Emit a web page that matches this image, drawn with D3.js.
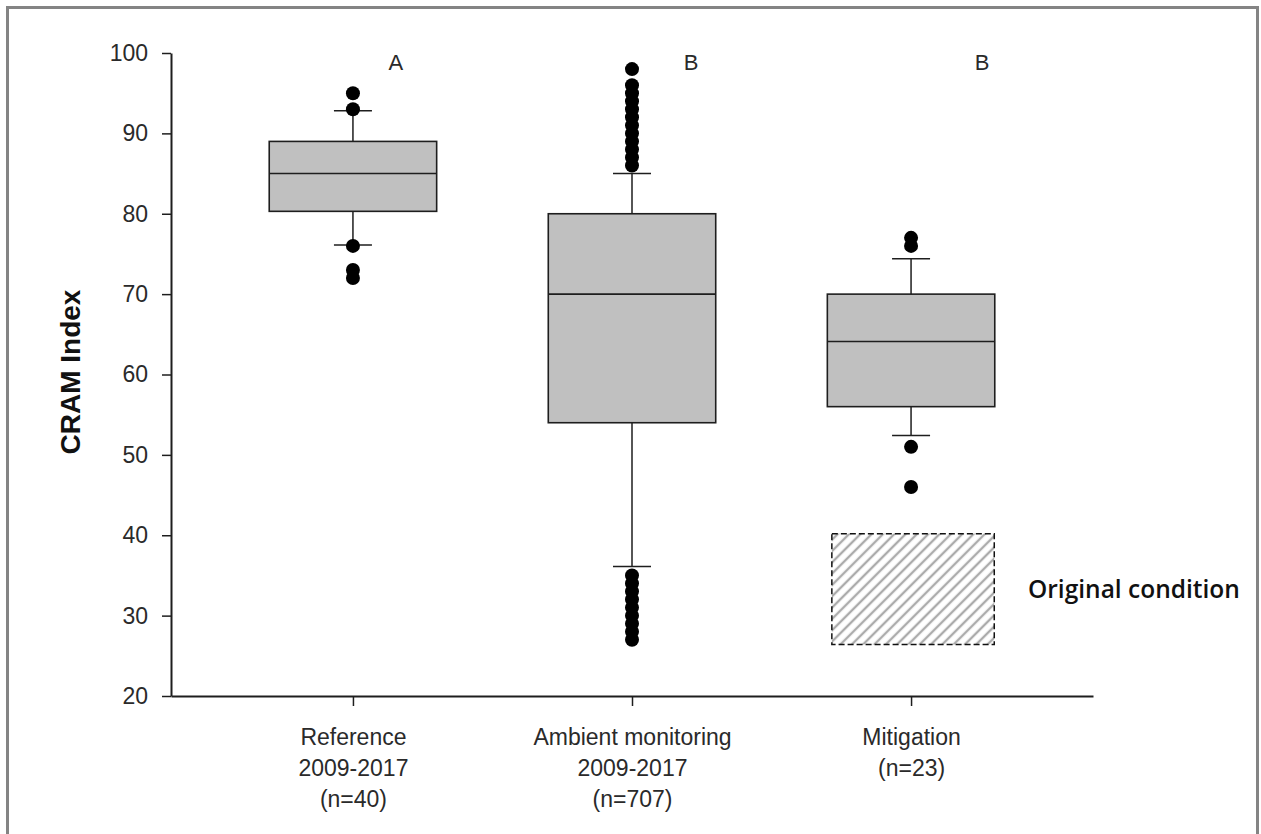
<!DOCTYPE html>
<html>
<head>
<meta charset="utf-8">
<script src="https://cdn.jsdelivr.net/npm/d3@7"></script>
<style>
  body { margin: 0; background: #fff; }
  svg { display: block; font-family: "Liberation Sans", Arial, sans-serif; }
</style>
</head>
<body>
<svg width="1261" height="834"></svg>
<script>
// data
const categoryLabels = [
  ["Reference", "2009-2017", "(n=40)"],
  ["Ambient monitoring", "2009-2017", "(n=707)"],
  ["Mitigation", "(n=23)"]
]
const groupLetters = ["A", "B", "B"]
const q1 = [80.3, 54, 56]
const median = [85, 70, 64.1]
const q3 = [89, 80, 70]
const whiskerLow = [76.1, 36.1, 52.4]
const whiskerHigh = [92.8, 85, 74.4]
const outliers = [
  [95, 93, 76, 73, 72],
  [98, 96, 95, 94, 93, 92, 91, 90, 89, 88, 87, 86, 35, 34, 33, 32, 31, 30, 29, 28, 27],
  [77, 76, 51, 46]
]
const originalCondition = [26.4, 40.2]   // hatched range under Mitigation
const yTicks = [20, 30, 40, 50, 60, 70, 80, 90, 100]

const svg = d3.select("svg")
const width = +svg.attr("width")
const height = +svg.attr("height")

// grey frame round the figure (bottom edge runs off the picture)
svg.append("rect")
  .attr("x", 7.5).attr("y", 7.5)
  .attr("width", 1250).attr("height", 840)
  .attr("fill", "none")
  .attr("stroke", "#848484")
  .attr("stroke-width", 3)

const x = d3.scalePoint()
  .domain(d3.range(categoryLabels.length))
  .range([171, 1093])
  .padding(0.652)

const y = d3.scaleLinear()
  .domain([20, 100])
  .range([696, 53])

const boxW = x.step() * 0.6
const capW = 38

// hatch pattern
const defs = svg.append("defs")
const pat = defs.append("pattern")
  .attr("id", "hatch")
  .attr("patternUnits", "userSpaceOnUse")
  .attr("width", 8).attr("height", 8)
  .attr("patternTransform", "rotate(45)")
pat.append("line")
  .attr("x1", 2).attr("y1", 0).attr("x2", 2).attr("y2", 8)
  .attr("stroke", "#ababab")
  .attr("stroke-width", 2.4)

// axes
const yAxisG = svg.append("g")
  .attr("transform", "translate(171,0)")
  .call(d3.axisLeft(y).tickValues(yTicks).tickSize(9).tickSizeOuter(0).tickPadding(14))
const xAxisG = svg.append("g")
  .attr("transform", "translate(0,696)")
  .call(d3.axisBottom(x).tickSize(10).tickSizeOuter(0).tickFormat(""))

yAxisG.select(".domain").attr("stroke", "#1e1e1e").attr("stroke-width", 2)
xAxisG.select(".domain").attr("stroke", "#1e1e1e").attr("stroke-width", 2)
yAxisG.selectAll(".tick line").attr("stroke", "#1e1e1e").attr("stroke-width", 1.5)
xAxisG.selectAll(".tick line").attr("stroke", "#1e1e1e").attr("stroke-width", 1.5)
yAxisG.selectAll(".tick text")
  .attr("font-size", 23)
  .attr("font-family", "Liberation Sans, Arial, sans-serif")
  .attr("fill", "#2a2a2a")

// category labels, several lines each
xAxisG.selectAll(".tick").each(function(d) {
  const t = d3.select(this).append("text")
    .attr("text-anchor", "middle")
    .attr("font-size", 23)
    .attr("font-family", "Liberation Sans, Arial, sans-serif")
    .attr("fill", "#2a2a2a")
  categoryLabels[d].forEach((line, i) => {
    t.append("tspan").attr("x", 0).attr("y", 49 + i * 31).text(line)
  })
})

// y axis title
svg.append("text")
  .attr("transform", "translate(80,372) rotate(-90)")
  .attr("text-anchor", "middle")
  .attr("font-size", 28)
  .attr("font-weight", "bold")
  .attr("fill", "#111")
  .text("CRAM Index")

// boxes
const boxes = svg.append("g")
  .selectAll("g")
  .data(d3.range(categoryLabels.length))
  .join("g")

boxes.append("line")  // whisker line
  .attr("x1", i => x(i)).attr("x2", i => x(i))
  .attr("y1", i => y(whiskerLow[i])).attr("y2", i => y(whiskerHigh[i]))
  .attr("stroke", "#1e1e1e").attr("stroke-width", 1.5)
boxes.selectAll(".cap")
  .data(i => [[i, whiskerLow[i]], [i, whiskerHigh[i]]])
  .join("line")
  .attr("class", "cap")
  .attr("x1", d => x(d[0]) - capW / 2).attr("x2", d => x(d[0]) + capW / 2)
  .attr("y1", d => y(d[1])).attr("y2", d => y(d[1]))
  .attr("stroke", "#1e1e1e").attr("stroke-width", 1.5)
boxes.append("rect")
  .attr("x", i => x(i) - boxW / 2)
  .attr("width", boxW)
  .attr("y", i => y(q3[i]))
  .attr("height", i => y(q1[i]) - y(q3[i]))
  .attr("fill", "#c0c0c0")
  .attr("stroke", "#1e1e1e").attr("stroke-width", 1.6)
boxes.append("line")  // median
  .attr("x1", i => x(i) - boxW / 2).attr("x2", i => x(i) + boxW / 2)
  .attr("y1", i => y(median[i])).attr("y2", i => y(median[i]))
  .attr("stroke", "#1e1e1e").attr("stroke-width", 1.6)

// outlier dots
boxes.selectAll("circle")
  .data(i => outliers[i].map(v => [i, v]))
  .join("circle")
  .attr("cx", d => x(d[0]))
  .attr("cy", d => y(d[1]))
  .attr("r", 7)
  .attr("fill", "#000")

// group letters
const letterDx = [43, 59, 71]
svg.append("g").selectAll("text")
  .data(groupLetters)
  .join("text")
  .attr("x", (d, i) => x(i) + letterDx[i])
  .attr("y", 70)
  .attr("text-anchor", "middle")
  .attr("font-size", 22)
  .attr("fill", "#2a2a2a")
  .text(d => d)

// original condition range under mitigation
const hw = boxW * 0.97
svg.append("rect")
  .attr("x", x(2) - hw / 2 + 2)
  .attr("width", hw)
  .attr("y", y(originalCondition[1]))
  .attr("height", y(originalCondition[0]) - y(originalCondition[1]))
  .attr("fill", "url(#hatch)")
  .attr("stroke", "#111")
  .attr("stroke-width", 1.5)
  .attr("stroke-dasharray", "6,3")

svg.append("text")
  .attr("x", 1028)
  .attr("y", y((originalCondition[0] + originalCondition[1]) / 2) + 9)
  .attr("font-family", "'Open Sans', 'Noto Sans', sans-serif")
  .attr("font-weight", 600)
  .attr("font-size", 24.5)
  .attr("fill", "#111")
  .text("Original condition")
</script>
</body>
</html>
